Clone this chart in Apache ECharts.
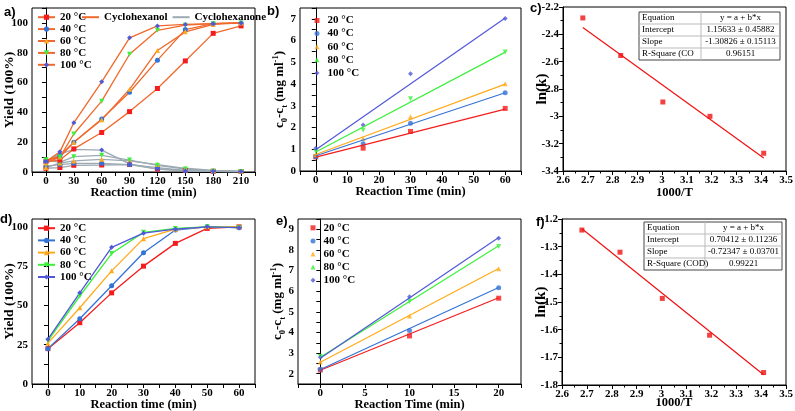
<!DOCTYPE html>
<html><head><meta charset="utf-8">
<script src="https://cdn.jsdelivr.net/npm/echarts@6/dist/echarts.min.js"></script>
<style>html,body{margin:0;padding:0;background:#fff}#c{width:795px;height:411px}</style>
</head><body><div id="c"></div>
<script>
// ---------- DATA ----------
const tempLabels = ['20 °C', '40 °C', '60 °C', '80 °C', '100 °C'];

// panel a: cyclohexanol / cyclohexanone yield vs time
const aTime = [0, 15, 30, 60, 90, 120, 150, 180, 210];
const aOl20 = [7, 8, 15.5, 26.5, 40.5, 56, 74.5, 93, 98];
const aOl40 = [7, 11, 20, 35.5, 53.5, 75, 95.5, 99.5, 100];
const aOl60 = [6, 10, 20, 35, 55.5, 81.5, 94, 99, 100];
const aOl80 = [8, 10, 25.5, 47.5, 79, 95, 98.5, 99.5, 100];
const aOl100 = [7, 13.5, 33, 60.5, 90, 98, 99, 99.5, 100];
const aOne20 = [2.5, 3, 4.5, 4.7, 5, 2, 1, 0.5, 0.3];
const aOne40 = [4, 5, 5.8, 5.8, 5, 3, 1, 0.5, 0.3];
const aOne60 = [3, 6, 7.4, 8.5, 7.5, 5, 2.5, 1, 0.5];
const aOne80 = [8, 6.5, 10.3, 11.2, 8, 4.5, 2, 0.5, 0.3];
const aOne100 = [7, 12, 15.2, 14.7, 5.5, 2, 0.7, 0.5, 0.3];

// panel b: c0-ct vs time
const bTime = [0, 15, 30, 60];
const b20 = [0.65, 1.05, 1.82, 2.88];
const b40 = [0.65, 1.25, 2.2, 3.6];
const b60 = [0.75, 1.5, 2.5, 4.02];
const b80 = [0.9, 1.88, 3.32, 5.48];
const b100 = [1.05, 2.12, 4.47, 7.02];
const bFitTime = [0, 60];
const bFit20 = [0.64, 2.85];
const bFit40 = [0.7, 3.6];
const bFit60 = [0.76, 4.0];
const bFit80 = [0.87, 5.47];
const bFit100 = [0.98, 7.04];

// panel c: Arrhenius
const cX = [2.68, 2.833, 3.003, 3.193, 3.41];
const cY = [-2.28, -2.555, -2.895, -3.0, -3.27];
const cFitX = [2.68, 3.41];
const cFitY = [-2.35, -3.305];
const cTable = [['Equation', 'y = a + b*x'], ['Intercept', '1.15633 ± 0.45882'], ['Slope', '-1.30826 ± 0.15113'], ['R-Square (CO', '0.96151']];

// panel d
const dTime = [0, 10, 20, 30, 40, 50, 60];
const d20 = [22.5, 39, 58, 75, 89.5, 99, 100];
const d40 = [22.5, 41.5, 62.5, 83.5, 98, 100, 99.5];
const d60 = [26, 48.5, 72, 92.5, 98.5, 100, 100];
const d80 = [27.5, 56, 83, 96.5, 99, 100, 99.5];
const d100 = [28.5, 58, 87, 96, 98.5, 100, 99.5];

// panel e
const eTime = [0, 10, 20];
const e20 = [2.18, 3.83, 5.66];
const e40 = [2.21, 4.1, 6.17];
const e60 = [2.57, 4.8, 7.09];
const e80 = [2.83, 5.5, 8.17];
const e100 = [2.8, 5.73, 8.57];
const eFitTime = [0, 20];
const eFit20 = [2.17, 5.68];
const eFit40 = [2.2, 6.18];
const eFit60 = [2.55, 7.1];
const eFit80 = [2.8, 8.2];
const eFit100 = [2.75, 8.6];

// panel f
const fX = [2.68, 2.833, 3.003, 3.193, 3.41];
const fY = [-1.24, -1.32, -1.487, -1.62, -1.755];
const fFitX = [2.68, 3.41];
const fFitY = [-1.235, -1.763];
const fTable = [['Equation', 'y = a + b*x'], ['Intercept', '0.70412 ± 0.11236'], ['Slope', '-0.72347 ± 0.03701'], ['R-Square (COD)', '0.99221']];

// ---------- STYLE ----------
const SERIF = 'Liberation Serif';
const colors = ['#f41c1c', '#3373d6', '#ffaa1a', '#3cf03c', '#5158d8'];
const symbols = ['rect', 'circle', 'triangle', 'triangle', 'diamond'];
const rots = [0, 0, 0, 180, 0];
const OL = '#f0692c', ONE = '#9caab3';

const zip = (xs, ys) => xs.map((x, i) => [x, ys[i]]);
const isMult = (v, s) => Math.abs(v / s - Math.round(v / s)) < 1e-6;
const fmt = v => String(+v.toFixed(6));

function lbl(step) {
  return { fontFamily: SERIF, fontWeight: 'bold', fontSize: 11, color: '#000', margin: 4,
    formatter: step ? (v => isMult(v, step) ? fmt(v) : '') : undefined };
}
const axLine = { show: true, lineStyle: { color: '#000', width: 1 } };
const axTick = { show: true, length: 4, lineStyle: { color: '#000' } };
const nameStyle = (sz) => ({ fontFamily: SERIF, fontWeight: 'bold', fontSize: sz, color: '#000' });

function xAx(g, min, max, interval, step, name, gap, minor) {
  return { type: 'value', gridIndex: g, min, max, interval, axisLine: axLine, axisTick: axTick,
    minorTick: minor ? { show: true, splitNumber: 2, length: 2.5, lineStyle: { color: '#000' } } : { show: false },
    splitLine: { show: false }, axisLabel: lbl(step), name, nameLocation: 'middle', nameGap: gap, nameMoveOverlap: false,
    nameTextStyle: nameStyle(12.5) };
}
function yAx(g, min, max, interval, step, name, gap, minor, nts) {
  return { type: 'value', gridIndex: g, min, max, interval, axisLine: axLine, axisTick: axTick,
    minorTick: minor ? { show: true, splitNumber: 2, length: 2.5, lineStyle: { color: '#000' } } : { show: false },
    splitLine: { show: false }, axisLabel: lbl(step), name, nameLocation: 'middle', nameGap: gap, nameMoveOverlap: false,
    nameTextStyle: nts || nameStyle(13.5) };
}

const cRich = {
  fontFamily: SERIF, fontWeight: 'bold', fontSize: 13, color: '#000',
  rich: {
    m: { fontFamily: SERIF, fontWeight: 'bold', fontSize: 13, color: '#000', lineHeight: 18 },
    s: { fontFamily: SERIF, fontWeight: 'bold', fontSize: 8.5, color: '#000', lineHeight: 18, verticalAlign: 'bottom' },
    p: { fontFamily: SERIF, fontWeight: 'bold', fontSize: 8.5, color: '#000', lineHeight: 18, verticalAlign: 'top' }
  }
};
const cName = '{m|c}{s|0}{m|-c}{s|t}{m| (mg ml}{p|-1}{m|)}';

const grids = [
  { left: 32, top: 8, width: 223, height: 164 },
  { left: 300, top: 8, width: 221, height: 163 },
  { left: 563, top: 7, width: 223, height: 164 },
  { left: 32, top: 219, width: 223, height: 165 },
  { left: 298, top: 219, width: 223, height: 165 },
  { left: 562, top: 219, width: 224, height: 166 }
].map(g => Object.assign({ show: true, borderColor: '#000', borderWidth: 1, containLabel: false, outerBoundsMode: 'none' }, g));

const xAxes = [
  xAx(0, -15, 225, 15, 30, 'Reaction time (min)', 14),
  xAx(1, -5, 65, 5, 10, 'Reaction Time (min)', 14.5),
  xAx(2, 2.6, 3.5, 0.1, null, '1000/T', 15.5, true),
  xAx(3, -5, 65, 5, 10, 'Reaction time (min)', 14),
  xAx(4, -2.5, 22.5, 2.5, 5, 'Reaction Time (min)', 14),
  xAx(5, 2.6, 3.5, 0.1, null, '1000/T', 11, true)
];
const yAxes = [
  yAx(0, 0, 110, 10, 20, 'Yield (100%)', 15),
  yAx(1, 0, 7.5, 0.5, 1, cName, 11, false, cRich),
  yAx(2, -3.4, -2.2, 0.2, null, 'ln(k)', 13.5, true, nameStyle(15)),
  yAx(3, 0, 105, 12.5, 25, 'Yield (100%)', 15),
  yAx(4, 1.5, 9.5, 0.5, 1, cName, 11, false, cRich),
  yAx(5, -1.8, -1.2, 0.1, null, 'ln(k)', 13.5, true, nameStyle(15))
];

const series = [];
const labelMap = {};
const aOl = [aOl20, aOl40, aOl60, aOl80, aOl100];
const aOne = [aOne20, aOne40, aOne60, aOne80, aOne100];
const bS = [b20, b40, b60, b80, b100], bF = [bFit20, bFit40, bFit60, bFit80, bFit100];
const dS = [d20, d40, d60, d80, d100];
const eS = [e20, e40, e60, e80, e100], eF = [eFit20, eFit40, eFit60, eFit80, eFit100];

for (let i = 0; i < 5; i++) {
  series.push({ type: 'line', name: 'ak' + i, xAxisIndex: 0, yAxisIndex: 0, data: zip(aTime, aOne[i]),
    symbol: symbols[i], symbolRotate: rots[i], symbolSize: 5, lineStyle: { color: ONE, width: 1.3 },
    itemStyle: { color: colors[i] }, z: 2, animation: false });
}
for (let i = 0; i < 5; i++) {
  labelMap['a' + i] = tempLabels[i];
  series.push({ type: 'line', name: 'a' + i, xAxisIndex: 0, yAxisIndex: 0, data: zip(aTime, aOl[i]),
    symbol: symbols[i], symbolRotate: rots[i], symbolSize: 5, lineStyle: { color: OL, width: 1.3 },
    itemStyle: { color: colors[i] }, z: 3, animation: false });
}
series.push({ type: 'line', name: 'Cyclohexanol', xAxisIndex: 0, yAxisIndex: 0, data: [], symbol: 'none', lineStyle: { color: OL, width: 1.3 }, itemStyle: { color: OL } });
series.push({ type: 'line', name: 'Cyclohexanone', xAxisIndex: 0, yAxisIndex: 0, data: [], symbol: 'none', lineStyle: { color: ONE, width: 1.3 }, itemStyle: { color: ONE } });

for (let i = 0; i < 5; i++) {
  labelMap['b' + i] = tempLabels[i];
  series.push({ type: 'line', name: 'bf' + i, xAxisIndex: 1, yAxisIndex: 1, data: zip(bFitTime, bF[i]),
    symbol: 'none', lineStyle: { color: colors[i], width: 1.2 }, animation: false });
  series.push({ type: 'scatter', name: 'b' + i, xAxisIndex: 1, yAxisIndex: 1, data: zip(bTime, bS[i]),
    symbol: symbols[i], symbolRotate: rots[i], symbolSize: 5, itemStyle: { color: colors[i] }, animation: false });
}
series.push({ type: 'line', name: 'cf', xAxisIndex: 2, yAxisIndex: 2, data: zip(cFitX, cFitY), symbol: 'none', lineStyle: { color: '#f01010', width: 1.2 }, animation: false });
series.push({ type: 'scatter', name: 'cs', xAxisIndex: 2, yAxisIndex: 2, data: zip(cX, cY), symbol: 'rect', symbolSize: 5, itemStyle: { color: '#f01010' }, animation: false });
for (let i = 0; i < 5; i++) {
  labelMap['d' + i] = tempLabels[i];
  series.push({ type: 'line', name: 'd' + i, xAxisIndex: 3, yAxisIndex: 3, data: zip(dTime, dS[i]),
    symbol: symbols[i], symbolRotate: rots[i], symbolSize: 5, lineStyle: { color: colors[i], width: 1.3 },
    itemStyle: { color: colors[i] }, animation: false });
}
for (let i = 0; i < 5; i++) {
  labelMap['e' + i] = tempLabels[i];
  series.push({ type: 'line', name: 'ef' + i, xAxisIndex: 4, yAxisIndex: 4, data: zip(eFitTime, eF[i]),
    symbol: 'none', lineStyle: { color: colors[i], width: 1.2 }, animation: false });
  series.push({ type: 'scatter', name: 'e' + i, xAxisIndex: 4, yAxisIndex: 4, data: zip(eTime, eS[i]),
    symbol: symbols[i], symbolRotate: rots[i], symbolSize: 5, itemStyle: { color: colors[i] }, animation: false });
}
series.push({ type: 'line', name: 'ff', xAxisIndex: 5, yAxisIndex: 5, data: zip(fFitX, fFitY), symbol: 'none', lineStyle: { color: '#f01010', width: 1.2 }, animation: false });
series.push({ type: 'scatter', name: 'fs', xAxisIndex: 5, yAxisIndex: 5, data: zip(fX, fY), symbol: 'rect', symbolSize: 5, itemStyle: { color: '#f01010' }, animation: false });

const legTxt = { fontFamily: SERIF, fontWeight: 'bold', fontSize: 11, color: '#000' };
const legTxtS = Object.assign({ padding: [0, 0, 0, 3] }, legTxt);
const fmtLeg = n => labelMap[n] || n;
const legends = [
  { data: ['a0', 'a1', 'a2', 'a3', 'a4'], orient: 'vertical', left: 37, top: 11.7, itemWidth: 17, itemHeight: 6.5, itemGap: 0.9 },
  { data: [{ name: 'Cyclohexanol', itemStyle: { opacity: 0 } }, { name: 'Cyclohexanone', itemStyle: { opacity: 0 } }],
    orient: 'horizontal', left: 81, top: 11.7, itemWidth: 17, itemHeight: 6.5, itemGap: 4 },
  { data: ['b0', 'b1', 'b2', 'b3', 'b4'], orient: 'vertical', left: 314.5, top: 15, itemWidth: 5, itemHeight: 5, itemGap: 2.1, textStyle: legTxtS },
  { data: ['d0', 'd1', 'd2', 'd3', 'd4'], orient: 'vertical', left: 37, top: 222.7, itemWidth: 17, itemHeight: 6.5, itemGap: 1.2 },
  { data: ['e0', 'e1', 'e2', 'e3', 'e4'], orient: 'vertical', left: 310.5, top: 222.3, itemWidth: 5, itemHeight: 5, itemGap: 2.1, textStyle: legTxtS }
].map(l => Object.assign({ selectedMode: false, padding: 0, textStyle: legTxt, formatter: fmtLeg }, l));

function table(x, y, w, colX, rows) {
  const rh = 12, els = [];
  els.push({ type: 'rect', shape: { x, y, width: w, height: rh * rows.length }, style: { fill: '#fff', stroke: '#444', lineWidth: 1 }, z: 10 });
  for (let r = 1; r < rows.length; r++) {
    els.push({ type: 'line', shape: { x1: x, y1: y + r * rh, x2: x + w, y2: y + r * rh }, style: { stroke: '#bbb', lineWidth: 1 }, z: 11 });
  }
  els.push({ type: 'line', shape: { x1: colX, y1: y, x2: colX, y2: y + rh * rows.length }, style: { stroke: '#bbb', lineWidth: 1 }, z: 11 });
  rows.forEach((row, r) => {
    els.push({ type: 'text', x: x + 3, y: y + r * rh + rh / 2, style: { text: row[0], fontFamily: SERIF, fontSize: 9, fill: '#000', verticalAlign: 'middle', align: 'left' }, z: 12 });
    els.push({ type: 'text', x: (colX + x + w) / 2, y: y + r * rh + rh / 2, style: { text: row[1], fontFamily: SERIF, fontSize: 9, fill: '#000', verticalAlign: 'middle', align: 'center' }, z: 12 });
  });
  return els;
}
const panelLbl = (t, x, y) => ({ type: 'text', x, y, style: { text: t, fontFamily: 'Liberation Sans', fontWeight: 'bold', fontSize: 13, fill: '#000' }, z: 20 });

const graphic = [
  panelLbl('a)', 4, 6), panelLbl('b)', 267, 5), panelLbl('c)', 530, 2),
  panelLbl('d)', 0, 213), panelLbl('e)', 276, 215), panelLbl('f)', 536, 216)
].concat(table(639, 12, 141, 701, cTable)).concat(table(644, 222, 138, 705, fTable));

const chart = echarts.init(document.getElementById('c'), null, { renderer: 'canvas' });
chart.setOption({
  animation: false,
  backgroundColor: '#fff',
  grid: grids, xAxis: xAxes, yAxis: yAxes, series, legend: legends, graphic
});
</script></body></html>
